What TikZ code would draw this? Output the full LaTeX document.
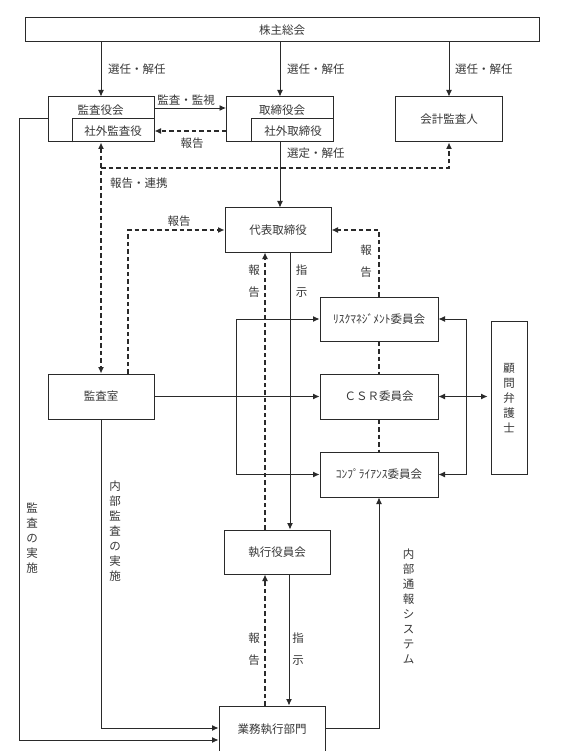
\documentclass[tikz,border=0pt]{standalone}
\usepackage{fontspec}
\setmainfont{Noto Sans CJK JP}
\usetikzlibrary{arrows.meta,calc}
\definecolor{ln}{HTML}{2A2A2A}
\definecolor{txt}{HTML}{383838}
\begin{document}
\begin{tikzpicture}[x=1pt,y=-1pt,
  every node/.style={font=\fontsize{11.5}{13}\selectfont, text=txt},
  box/.style={draw=ln, line width=1pt, fill=white, inner sep=0pt},
  conn/.style={draw=ln, line width=0.9pt},
  arr/.style={conn, -{Latex[length=6.5pt,width=6pt]}},
  darr/.style={conn, {Latex[length=6.5pt,width=6pt]}-{Latex[length=6.5pt,width=6pt]}},
  dsh/.style={line width=1.1pt, dash pattern=on 4.5pt off 3pt},
  lbl/.style={inner sep=0pt},
  vlbl/.style={inner sep=0pt, align=center, font=\fontsize{11.5}{15}\selectfont},
  vlblw/.style={inner sep=0pt, align=center, font=\fontsize{11.5}{22}\selectfont},
]
\useasboundingbox (0,0) rectangle (562,751);
\fill[white] (0,0) rectangle (562,751);

% ---- boxes ----
\node[box, minimum width=514pt, minimum height=24pt] (soukai) at (282,30) {株主総会};

\node[box, minimum width=106pt, minimum height=45pt] (kansayaku) at (101,119.5) {};
\draw[conn] (72,0 |- kansayaku.south) |- (kansayaku.east |- 0,118);
\node[lbl] (kansayakuT) at (100.6,110) {監査役会};
\node[lbl] (shagaiK) at (113,131) {社外監査役};

\node[box, minimum width=107pt, minimum height=45pt] (torishimari) at (280,119.5) {};
\draw[conn] (251,0 |- torishimari.south) |- (torishimari.east |- 0,118);
\node[lbl] (torishimariT) at (282,110) {取締役会};
\node[lbl] (shagaiT) at (293,131) {社外取締役};

\node[box, minimum width=107pt, minimum height=45pt] (kaikei) at (449,119.5) {会計監査人};

\node[box, minimum width=106pt, minimum height=44pt] (daihyo) at (278,230) {代表取締役};

\node[box, minimum width=118pt, minimum height=44pt] (risk) at (379,319) {ﾘｽｸﾏﾈｼﾞﾒﾝﾄ委員会};
\node[box, minimum width=118pt, minimum height=45pt] (csr) at (379,396.5) {ＣＳＲ委員会};
\node[box, minimum width=118pt, minimum height=45pt] (comp) at (379,474.5) {ｺﾝﾌﾟﾗｲｱﾝｽ委員会};

\node[box, minimum width=36pt, minimum height=153pt, vlbl] (komon) at (509,398) {顧\\問\\弁\\護\\士};

\node[box, minimum width=106pt, minimum height=45pt] (kansashitsu) at (101,396.5) {監査室};

\node[box, minimum width=106pt, minimum height=44pt] (shikko) at (277,552) {執行役員会};

\node[box, minimum width=106pt, minimum height=46pt] (gyomu) at (272,729) {業務執行部門};

% ---- top connectors ----
\draw[arr] (kansayaku.north |- soukai.south) -- (kansayaku.north);
\draw[arr] (torishimari.north |- soukai.south) -- (torishimari.north);
\draw[arr] (kaikei.north |- soukai.south) -- (kaikei.north);
\node[lbl, anchor=west] (l1) at (108,69) {選任・解任};
\node[lbl, anchor=west] (l2) at (287,69) {選任・解任};
\node[lbl, anchor=west] (l3) at (455,69) {選任・解任};

\draw[arr] (kansayaku.east |- 0,108) -- (torishimari.west |- 0,108);
\node[lbl] (l4) at (186,100) {監査・監視};
\draw[arr, dsh] (torishimari.west |- 0,131) -- (kansayaku.east |- 0,131);
\node[lbl] (l5) at (192,143) {報告};

\draw[arr] (280,0 |- torishimari.south) -- (280,0 |- daihyo.north);
\node[lbl, anchor=west] (l6) at (287,153) {選定・解任};

% ---- audit cooperation ----
\draw[darr, dsh] (kansayaku.south) -- (kansashitsu.north);
\coordinate (j1) at (101,168);
\draw[arr, dsh] (j1) -| (kaikei.south);
\node[lbl, anchor=west] (l7) at (110,183) {報告・連携};

% ---- reports to president ----
\draw[arr, dsh] (128,0 |- kansashitsu.north) |- (daihyo.west);
\node[lbl] (l8) at (179,221) {報告};
\draw[arr, dsh] (risk.north) |- (daihyo.east);
\node[vlblw] (l9) at (366,261) {報\\告};

\draw[arr, dsh] (265,0 |- shikko.north) -- (265,0 |- daihyo.south);
\node[vlblw] (l10) at (254,281) {報\\告};
\draw[arr] (290,0 |- daihyo.south) -- (290,0 |- shikko.north);
\node[vlblw] (l11) at (301.6,281) {指\\示};

% ---- committees ----
\coordinate (kj) at (236,396.5);
\draw[arr] (kansashitsu.east) -- (csr.west);
\draw[arr] (kj) |- (risk.west);
\draw[arr] (kj) |- (comp.west);
\draw[conn, dsh] (risk.south) -- (csr.north);
\draw[conn, dsh] (csr.south) -- (comp.north);

\coordinate (rj) at (466,396.5);
\draw[darr] (csr.east) -- ([xshift=-3pt]komon.west |- csr.east);
\draw[arr] (rj) |- (risk.east);
\draw[arr] (rj) |- (comp.east);

% ---- executive to business ----
\draw[arr, dsh] (265,0 |- gyomu.north) -- (265,0 |- shikko.south);
\node[vlblw] (l12) at (254,649) {報\\告};
\draw[arr] (289,0 |- shikko.south) -- (289,0 |- gyomu.north);
\node[vlblw] (l13) at (298,649) {指\\示};

% ---- audits ----
\draw[arr] (kansashitsu.south) |- ([yshift=1pt]gyomu.west);
\node[vlbl] (l14) at (115,531) {内\\部\\監\\査\\の\\実\\施};
\draw[arr] (kansayaku.west |- 0,118) -- (19,0 |- 0,118) |- ([yshift=-11pt]gyomu.west);
\node[vlbl] (l15) at (32,538) {監\\査\\の\\実\\施};

\draw[arr] ([yshift=1pt]gyomu.east) -| (comp.south);
\node[vlbl] (l16) at (408.6,606) {内\\部\\通\\報\\シ\\ス\\テ\\ム};
\end{tikzpicture}
\end{document}
